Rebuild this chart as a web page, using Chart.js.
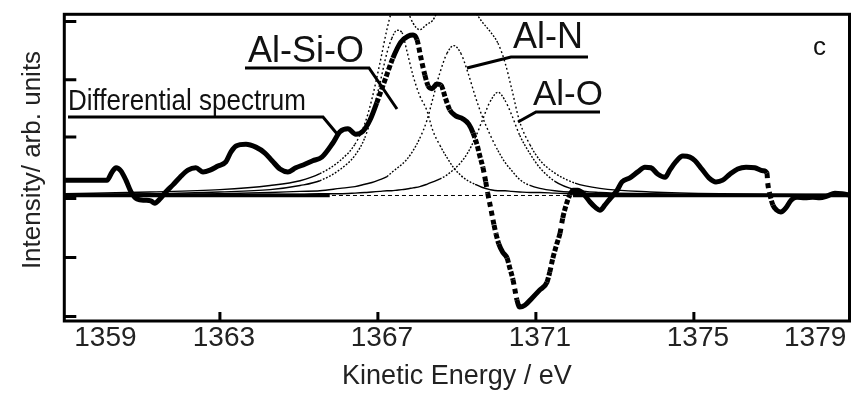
<!DOCTYPE html>
<html><head><meta charset="utf-8">
<script src="https://cdn.jsdelivr.net/npm/chart.js@4.4.1/dist/chart.umd.min.js"></script>
<style>html,body{margin:0;padding:0;background:#fff;}#wrap{width:853px;height:396px;}</style>
</head><body><div id="wrap"><canvas id="c" width="853" height="396"></canvas></div>
<script>
// ---- differential spectrum (thick curve) ----
const specEnergy = [1359.08,1359.46,1360.14,1360.27,1360.37,1360.49,1360.62,1360.75,1360.90,1361.10,1361.25,1361.35,1361.48,1361.63,1361.81,1361.99,1362.19,1362.39,1362.57,1362.75,1362.95,1363.15,1363.28,1363.41,1363.66,1363.91,1364.14,1364.32,1364.52,1364.72,1364.92,1365.15,1365.35,1365.58,1365.86,1366.04,1366.24,1366.44,1366.62,1366.80,1366.97,1367.18,1367.38,1367.58,1367.76,1367.89,1367.99,1368.09,1368.19,1368.27,1368.37,1368.49,1368.60,1368.70,1368.82,1368.97,1369.15,1369.30,1369.41,1369.51,1369.58,1369.66,1369.73,1369.78,1369.84,1369.89,1369.94,1369.99,1370.06,1370.16,1370.27,1370.34,1370.42,1370.47,1370.52,1370.59,1370.72,1370.90,1371.10,1371.28,1371.35,1371.43,1371.53,1371.61,1371.68,1371.78,1371.86,1371.94,1372.06,1372.19,1372.37,1372.52,1372.62,1372.75,1372.87,1373.05,1373.18,1373.38,1373.58,1373.76,1373.91,1374.09,1374.27,1374.39,1374.54,1374.72,1374.90,1375.03,1375.20,1375.38,1375.56,1375.73,1375.91,1376.11,1376.32,1376.54,1376.75,1376.85,1376.87,1376.92,1377.00,1377.10,1377.20,1377.33,1377.46,1377.61,1377.81,1378.01,1378.19,1378.37,1378.57,1378.75,1378.92];
const specValue = [0.26,0.26,0.26,0.40,0.47,0.42,0.26,0.06,-0.06,-0.08,-0.09,-0.13,-0.06,0.06,0.18,0.31,0.43,0.47,0.40,0.43,0.50,0.57,0.74,0.84,0.87,0.82,0.72,0.59,0.45,0.40,0.47,0.53,0.59,0.65,0.89,1.08,1.13,1.04,1.09,1.28,1.57,1.96,2.33,2.60,2.70,2.72,2.64,2.33,2.04,1.86,1.81,1.89,1.87,1.67,1.45,1.35,1.30,1.21,1.06,0.86,0.67,0.47,0.23,0.04,-0.16,-0.33,-0.50,-0.65,-0.82,-0.96,-1.06,-1.23,-1.43,-1.60,-1.77,-1.89,-1.86,-1.74,-1.60,-1.47,-1.30,-1.06,-0.82,-0.64,-0.38,-0.13,0.01,0.09,0.09,0.04,-0.11,-0.21,-0.25,-0.16,-0.06,0.08,0.23,0.30,0.40,0.48,0.47,0.36,0.31,0.43,0.57,0.67,0.65,0.59,0.45,0.30,0.23,0.26,0.36,0.45,0.48,0.47,0.42,0.38,0.21,0.03,-0.16,-0.25,-0.28,-0.21,-0.08,-0.03,-0.04,-0.03,-0.04,-0.01,0.04,0.03,0.01];

// ---- fitted components (thin dotted curves) ----
const compEnergy = [1359.08,1361.23,1363.00,1364.27,1365.03,1365.53,1366.04,1366.42,1366.67,1366.85,1367.05,1367.23,1367.35,1367.48,1367.61,1367.73,1367.89,1368.06,1368.24,1368.39,1368.57,1368.75,1368.92,1369.10,1369.28,1369.46,1369.63,1369.84,1370.04,1370.22,1370.39,1370.59,1370.85,1371.10,1371.48,1371.99,1372.62,1373.89,1375.66,1378.92];
const alSiO = [0.02,0.03,0.06,0.10,0.17,0.25,0.44,0.68,0.98,1.36,1.90,2.42,2.66,2.80,2.76,2.46,2.03,1.69,1.44,1.10,0.85,0.64,0.47,0.34,0.25,0.19,0.14,0.10,0.08,0.08,0.07,0.06,0.05,0.05,0.04,0.03,0.03,0.02,0.01,0.01];
const alN = [0.01,0.02,0.03,0.05,0.07,0.08,0.12,0.15,0.19,0.22,0.27,0.32,0.39,0.46,0.53,0.61,0.76,0.97,1.27,1.64,2.08,2.41,2.54,2.41,2.08,1.69,1.36,1.03,0.76,0.56,0.42,0.27,0.17,0.12,0.08,0.05,0.03,0.02,0.01,0.01];
const alO = [0.00,0.01,0.01,0.02,0.02,0.03,0.03,0.04,0.05,0.06,0.07,0.08,0.08,0.09,0.10,0.11,0.13,0.15,0.19,0.23,0.28,0.35,0.44,0.56,0.73,0.97,1.25,1.59,1.75,1.61,1.36,1.02,0.71,0.47,0.24,0.10,0.05,0.03,0.01,0.01];
const envelope = [0.03,0.06,0.10,0.17,0.25,0.37,0.59,0.87,1.22,1.64,2.24,2.82,3.13,3.35,3.39,3.18,2.92,2.81,2.90,2.97,3.21,3.40,3.46,3.38,3.25,3.11,2.95,2.78,2.58,2.25,1.80,1.25,0.86,0.60,0.38,0.21,0.12,0.06,0.03,0.02];

// ---- baselines ----
const baseLeftEnergy = [1359.06, 1365.78];
const baseRightEnergy = [1371.94, 1378.94];
const zeroDashEnergy = [1365.66, 1371.86];

// ---- axes ----
const xTickValues = [1359, 1363, 1367, 1371, 1375, 1379];
const xTickLabels = ['1359', '1363', '1367', '1371', '1375', '1379'];
const xTickMarks = [1363, 1367, 1371, 1375];
const yTickMarks = [2.95, 1.96, 0.99, -0.05, -1.05, -2.05];
const xLabelShift = {1359: 1.0, 1379: -1.03};

const FONT = "'Liberation Sans', Arial, sans-serif";
const pts = (xs, ys) => xs.map((x, i) => ({x: x, y: ys[i]}));
const flat = (xs) => xs.map(x => ({x: x, y: 0}));

function thinDash(ctx) {
  const dx = Math.max(0.01, ctx.p1.x - ctx.p0.x);
  const s = Math.abs(ctx.p1.y - ctx.p0.y) / dx;
  if (s < 0.45) return undefined;
  return s > 2 ? [1.8, 2.6] : [1.8, 1.6];
}
function thickDash(ctx) {
  const dx = Math.max(0.01, ctx.p1.x - ctx.p0.x);
  const s = Math.abs(ctx.p1.y - ctx.p0.y) / dx;
  if (s < 2.6) return undefined;
  let gap = 1.7 * Math.sqrt(1 + s * s) - 5;
  gap = Math.round(Math.min(6, Math.max(1.5, gap)));
  return [5, gap];
}

const thin = (data, order) => ({
  data, borderColor: '#000', borderWidth: 1.4, pointRadius: 0, clip: 0,
  cubicInterpolationMode: 'monotone', order, segment: {borderDash: thinDash}
});

const annot = {
  id: 'annot',
  afterDatasetsDraw(chart) {
    const {ctx, chartArea: a, scales} = chart;
    ctx.save();
    // frame
    ctx.strokeStyle = '#000'; ctx.lineWidth = 3;
    ctx.strokeRect(a.left, a.top, a.right - a.left, a.bottom - a.top);
    // inward tick marks
    ctx.beginPath();
    xTickMarks.forEach(v => { const p = scales.x.getPixelForValue(v); ctx.moveTo(p, a.bottom); ctx.lineTo(p, a.bottom - 9); });
    yTickMarks.forEach(v => { const p = scales.y.getPixelForValue(v); ctx.moveTo(a.left, p); ctx.lineTo(a.left + 12, p); });
    ctx.stroke();
    // y title
    ctx.fillStyle = '#222';
    ctx.font = '26px ' + FONT;
    ctx.save(); ctx.translate(39.5, 160); ctx.rotate(-Math.PI / 2);
    ctx.textAlign = 'center'; ctx.textBaseline = 'alphabetic';
    ctx.fillText('Intensity/ arb. units', 0, 0); ctx.restore();
    // labels
    ctx.fillStyle = '#111'; ctx.textAlign = 'left'; ctx.textBaseline = 'alphabetic';
    ctx.font = '36px ' + FONT; ctx.fillText('Al-Si-O', 248, 62);
    ctx.font = '26px ' + FONT;
    ctx.save(); ctx.translate(68, 110); ctx.scale(1, 1.12); ctx.fillText('Differential spectrum', 0, 0); ctx.restore();
    ctx.font = '36px ' + FONT; ctx.fillText('Al-N', 513, 48);
    ctx.font = '35px ' + FONT; ctx.fillText('Al-O', 533, 105);
    ctx.font = '26px ' + FONT; ctx.fillText('c', 813, 55);
    // underlines + leaders
    ctx.lineWidth = 3; ctx.lineJoin = 'miter';
    const path = (p) => { ctx.beginPath(); ctx.moveTo(p[0][0], p[0][1]); for (let i = 1; i < p.length; i++) ctx.lineTo(p[i][0], p[i][1]); ctx.stroke(); };
    path([[245, 68], [369, 68], [397, 109]]);
    path([[68, 117], [323, 117], [338, 135]]);
    path([[588, 57], [511, 57], [467, 68]]);
    path([[600, 112], [536, 112], [518, 122]]);
    ctx.restore();
  }
};

new Chart(document.getElementById('c'), {
  type: 'line',
  data: {
    datasets: [
      {data: pts(specEnergy, specValue), borderColor: '#000', borderWidth: 5, pointRadius: 0, clip: 0,
       cubicInterpolationMode: 'monotone', order: 0, segment: {borderDash: thickDash}},
      thin(pts(compEnergy, alSiO), 2),
      thin(pts(compEnergy, alN), 2),
      thin(pts(compEnergy, alO), 2),
      thin(pts(compEnergy, envelope), 2),
      {data: flat(baseLeftEnergy), borderColor: '#000', borderWidth: 3.5, pointRadius: 0, clip: 0, order: 3},
      {data: flat(baseRightEnergy), borderColor: '#000', borderWidth: 3.5, pointRadius: 0, clip: 0, order: 3},
      {data: flat(zeroDashEnergy), borderColor: '#000', borderWidth: 1, borderDash: [4, 3], pointRadius: 0, clip: 0, order: 3}
    ]
  },
  options: {
    responsive: false, animation: false, devicePixelRatio: 1,
    layout: {padding: {top: 14.3, right: 3.5, left: 0, bottom: 0}},
    plugins: {legend: {display: false}, tooltip: {enabled: false}},
    scales: {
      x: {
        type: 'linear', min: 1359.06, max: 1378.94, position: 'bottom',
        grid: {display: false, drawTicks: false}, border: {display: false},
        afterBuildTicks: (s) => { s.ticks = xTickValues.map(v => ({value: v + (xLabelShift[v] || 0)})); },
        afterFit: (s) => { s.height = 75; },
        ticks: {autoSkip: false, maxRotation: 0, padding: 0, labelOffset: 4, color: '#222',
                font: {family: FONT, size: 28}, callback: (v, i) => xTickLabels[i]},
        title: {display: true, text: 'Kinetic Energy / eV', color: '#222', font: {family: FONT, size: 27},
                padding: {top: 0, bottom: 3}}
      },
      y: {
        type: 'linear', min: -2.127, max: 3.071,
        grid: {display: false, drawTicks: false}, border: {display: false},
        ticks: {display: false},
        afterFit: (s) => { s.width = 64.3; }
      }
    }
  },
  plugins: [annot]
});
</script></body></html>
